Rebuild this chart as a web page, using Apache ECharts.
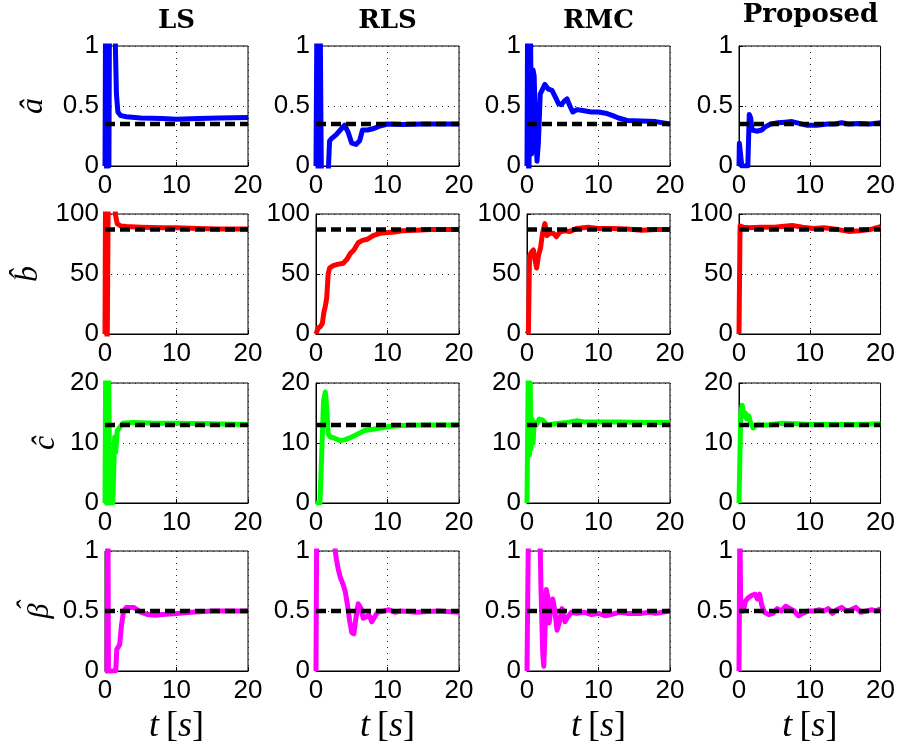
<!DOCTYPE html>
<html>
<head>
<meta charset="utf-8">
<script src="https://cdn.jsdelivr.net/npm/echarts@6/dist/echarts.min.js"></script>
<style>
  html, body { margin: 0; padding: 0; background: #fff; }
  #chart { width: 898px; height: 751px; }
</style>
</head>
<body>
<div id="chart"></div>
<script>
// column titles and row labels
var methods = ['LS', 'RLS', 'RMC', 'Proposed'];
var params = ['\u00e2', 'b\u0302', '\u0109', '{h|\u02c6}\n{g|\u03b2}'];
var yMax = [1, 100, 20, 1];
var yStep = [0.5, 50, 10, 0.5];
var trueVals = [0.35, 87, 13, 0.5];
var colors = ['#0000ff', '#ff0000', '#00ff00', '#ff00ff'];
var tMax = 20, tStep = 10;

// estimates of a
var aLS = [[0,0],[0.1,1.6],[0.25,-0.4],[0.4,1.8],[0.55,0],[0.7,2.5],[1.2,2.5],[1.45,1.0],[1.6,0.6],[1.8,0.45],[2.2,0.42],[3,0.41],[5,0.40],[8,0.395],[10,0.39],[13,0.395],[16,0.40],[20,0.405]];
var aRLS = [[0,0],[0.15,1.5],[0.35,-0.5],[0.55,1.5],[0.8,-0.5],[1.5,-0.3],[1.75,0],[1.9,0.21],[2.2,0.23],[2.8,0.26],[3.4,0.30],[4.0,0.34],[4.5,0.28],[5.0,0.19],[5.6,0.18],[6.1,0.21],[6.5,0.30],[7.2,0.30],[8.0,0.31],[8.8,0.33],[10,0.35],[12,0.345],[15,0.35],[20,0.35]];
var aRMC = [[0,0],[0.1,1.5],[0.25,-0.3],[0.45,1.4],[0.65,0.1],[0.85,0.8],[1.0,0.75],[1.2,0.3],[1.4,0.04],[1.6,0.2],[1.85,0.6],[2.1,0.63],[2.5,0.68],[3.0,0.64],[3.5,0.63],[4.0,0.57],[4.4,0.52],[4.8,0.51],[5.2,0.54],[5.6,0.56],[6.0,0.50],[6.4,0.45],[7.0,0.47],[8,0.46],[9,0.45],[10,0.45],[11,0.44],[12,0.42],[12.8,0.40],[14,0.38],[16,0.375],[18,0.37],[20,0.35]];
var aProp = [[0,0],[0.05,0.19],[0.3,0.19],[0.4,0],[1.25,0],[1.45,0.43],[1.65,0.40],[1.85,0.30],[2.5,0.29],[3.2,0.30],[3.8,0.33],[4.5,0.35],[5.5,0.36],[6.5,0.365],[7.5,0.37],[8.5,0.355],[9.5,0.34],[11,0.34],[12.5,0.35],[13.5,0.35],[14.5,0.36],[15.5,0.35],[17,0.355],[18.5,0.35],[20,0.36]];

// estimates of b
var bLS = [[0,0],[0.1,160],[0.3,-20],[0.5,160],[1.2,160],[1.45,100],[1.7,92],[2.2,90],[3,89.5],[5,89],[8,88.5],[10,88.5],[13,88],[16,87.5],[20,87.5]];
var bRLS = [[0,0],[0.3,5],[0.6,6],[0.9,9],[1.1,18],[1.3,23],[1.5,30],[1.7,50],[1.9,55],[2.4,57],[3.0,58],[3.8,59],[4.3,62],[4.8,67],[5.3,70],[5.9,76],[6.5,78],[7.2,79],[8,82],[9,84],[10,84.5],[11,85],[12,86],[14,86.5],[16,87],[20,87]];
var bRMC = [[0,0],[0.2,2],[0.35,65],[0.6,68],[0.9,70],[1.1,62],[1.35,55],[1.6,65],[1.9,72],[2.2,85],[2.5,92],[2.8,82],[3.2,84],[3.7,84],[4.1,81],[4.6,85],[5.2,86],[6,85.5],[7,88],[8.5,89],[10,88],[12,88],[14,87.5],[16,86.5],[18,87],[20,87]];
var bProp = [[0,0],[0.15,90],[0.6,89],[1.5,88.5],[3,89],[5,89],[7.5,90.5],[9,89],[10.5,88],[12,88.5],[14,87],[15.5,85.5],[17,86],[18.5,87],[20,89.5]];

// estimates of c
var cLS = [[0,0],[0.1,25],[0.3,-2],[0.5,25],[0.65,0],[1.1,0],[1.35,11],[1.5,8.5],[1.7,12],[2.0,12.5],[2.5,13.3],[4,13.4],[7,13.3],[10,13.3],[15,13.2],[20,13.1]];
var cRLS = [[0,0],[0.55,0],[0.8,8],[1.05,17],[1.3,18.5],[1.5,16],[1.7,11.5],[2.0,11],[2.6,10.8],[3.4,10.4],[4.2,10.6],[5,11],[5.5,11.3],[6.2,11.7],[6.8,12.1],[8,12.3],[9,12.5],[10,12.7],[12,12.9],[15,13],[20,13]];
var cRMC = [[0,0],[0.15,0],[0.2,25],[0.35,8],[0.45,20],[0.55,9],[0.7,14],[0.85,10],[1.0,13.5],[1.3,13],[1.7,14],[2.2,13.8],[2.8,13],[4,13.2],[5.5,13.4],[7,13.7],[8,13.5],[10,13.5],[13,13.5],[16,13.4],[20,13.4]];
var cProp = [[0,0],[0.15,0],[0.25,15],[0.45,16.3],[0.7,14.5],[0.9,15],[1.1,14],[1.4,14.5],[1.6,13.5],[2,12.5],[2.5,13],[4,13],[6,13.3],[8,13.2],[10,13.1],[14,13.1],[17,13.1],[20,13.2]];

// estimates of beta
var betaLS = [[0,0],[0.3,0],[0.4,1.5],[0.5,-0.3],[0.6,0],[1.5,0],[1.65,0.18],[1.85,0.2],[2.05,0.22],[2.3,0.38],[2.6,0.5],[3.0,0.53],[4,0.53],[5,0.49],[6,0.47],[7,0.465],[8,0.47],[10,0.48],[12,0.49],[15,0.5],[20,0.5]];
var betaRLS = [[0,0],[0.12,1.5],[2.6,1.05],[2.8,0.95],[3.1,0.85],[3.4,0.78],[3.8,0.72],[4.1,0.66],[4.4,0.55],[4.7,0.42],[5.0,0.32],[5.3,0.31],[5.6,0.45],[5.9,0.56],[6.3,0.52],[6.6,0.44],[7.0,0.45],[7.4,0.47],[7.8,0.41],[8.2,0.45],[8.6,0.49],[9.5,0.50],[10.2,0.51],[11,0.49],[12,0.50],[14,0.49],[17,0.5],[20,0.49]];
var betaRMC = [[0,0],[0.2,0],[0.25,1.5],[1.8,1.2],[1.95,0.7],[2.2,0.15],[2.35,0.04],[2.5,0.3],[2.7,0.68],[2.9,0.62],[3.1,0.4],[3.3,0.5],[3.6,0.6],[3.9,0.5],[4.2,0.34],[4.5,0.4],[4.9,0.52],[5.3,0.41],[5.7,0.45],[6.2,0.49],[7,0.48],[8,0.49],[9,0.47],[10,0.48],[11,0.46],[12,0.475],[13,0.49],[14,0.48],[15,0.48],[16,0.48],[17,0.49],[18,0.48],[20,0.5]];
var betaProp = [[0,0],[0.12,1.2],[0.25,0.5],[0.6,0.5],[0.9,0.58],[1.3,0.61],[1.8,0.63],[2.3,0.64],[2.6,0.6],[2.9,0.64],[3.2,0.55],[3.6,0.49],[4.2,0.47],[4.8,0.48],[5.4,0.52],[6,0.5],[6.6,0.54],[7.2,0.52],[7.8,0.5],[8.4,0.46],[9,0.48],[9.8,0.5],[10.6,0.5],[11.4,0.51],[12,0.5],[12.6,0.52],[13.2,0.48],[13.8,0.51],[14.5,0.53],[15.2,0.5],[15.8,0.51],[16.5,0.53],[17.2,0.49],[18,0.5],[18.8,0.51],[19.4,0.5],[20,0.52]];

var estimates = [
  [aLS, aRLS, aRMC, aProp],
  [bLS, bRLS, bRMC, bProp],
  [cLS, cRLS, cRMC, cProp],
  [betaLS, betaRLS, betaRMC, betaProp]
];

var colLeft = [105, 316, 527, 739], boxW = 143;
var rowTop = [46, 214, 383, 551], boxH = 120;
var nameGaps = [55, 60, 43, 57];

var tickFont = { fontFamily: 'Liberation Sans', fontSize: 26, color: '#000' };
var dotted = { show: true, lineStyle: { color: '#222', width: 1, type: [1, 5] } };

var grids = [], xAxes = [], yAxes = [], series = [], graphics = [];

for (var r = 0; r < 4; r++) {
  for (var c = 0; c < 4; c++) {
    var g = r * 4 + c;
    grids.push({ left: colLeft[c], top: rowTop[r], width: boxW, height: boxH,
      show: true, borderColor: '#000', borderWidth: 1, backgroundColor: '#fff' });
    var xa = {
      type: 'value', gridIndex: g, min: 0, max: tMax, interval: tStep,
      axisLine: { show: true, lineStyle: { color: '#000', width: 1 } },
      axisTick: { show: true, inside: true, length: 4, lineStyle: { color: '#000' } },
      axisLabel: Object.assign({ margin: 7 }, tickFont),
      splitLine: dotted
    };
    if (r === 3) {
      xa.name = '{i|t}\u2009[{i|s}]';
      xa.nameLocation = 'middle';
      xa.nameGap = 38;
      xa.nameTextStyle = { fontFamily: 'Liberation Serif', fontSize: 36, color: '#000',
        rich: { i: { fontFamily: 'Liberation Serif', fontStyle: 'italic', fontSize: 36, color: '#000' } } };
    }
    xAxes.push(xa);
    var ya = {
      type: 'value', gridIndex: g, min: 0, max: yMax[r], interval: yStep[r],
      axisLine: { show: true, lineStyle: { color: '#000', width: 1 } },
      axisTick: { show: true, inside: true, length: 4, lineStyle: { color: '#000' } },
      axisLabel: Object.assign({ margin: 6 }, tickFont),
      splitLine: dotted
    };
    if (c === 0) {
      ya.name = params[r];
      ya.nameLocation = 'middle';
      ya.nameRotate = 90;
      ya.nameGap = nameGaps[r];
      ya.nameTextStyle = { fontFamily: 'Liberation Serif', fontStyle: 'italic', fontSize: 32, color: '#000',
        rich: {
          h: { fontFamily: 'Liberation Serif', fontSize: 30, lineHeight: 6, align: 'center', padding: [0, 0, 0, 10] },
          g: { fontFamily: 'Liberation Serif', fontStyle: 'italic', fontSize: 30, lineHeight: 16, align: 'center' }
        } };
    }
    yAxes.push(ya);
    series.push({
      type: 'line', xAxisIndex: g, yAxisIndex: g, data: estimates[r][c],
      showSymbol: false, symbol: 'none', clip: true, animation: false,
      lineStyle: { color: colors[r], width: 5, join: 'round' }
    });
    series.push({
      type: 'line', xAxisIndex: g, yAxisIndex: g,
      data: [[0, trueVals[r]], [tMax, trueVals[r]]],
      showSymbol: false, symbol: 'none', animation: false,
      lineStyle: { color: '#000', width: 4.5, type: [10, 5] }
    });
  }
}

for (var k = 0; k < 4; k++) {
  graphics.push({
    type: 'text', x: colLeft[k] + boxW / 2, y: k === 3 ? 2 : 8,
    style: { text: methods[k], fill: '#000', font: 'bold 26px "DejaVu Serif"', textAlign: 'center', textVerticalAlign: 'top' }
  });
}

var chart = echarts.init(document.getElementById('chart'), null, { renderer: 'canvas' });
chart.setOption({
  animation: false,
  backgroundColor: '#fff',
  grid: grids,
  xAxis: xAxes,
  yAxis: yAxes,
  series: series,
  graphic: graphics
});
</script>
</body>
</html>
